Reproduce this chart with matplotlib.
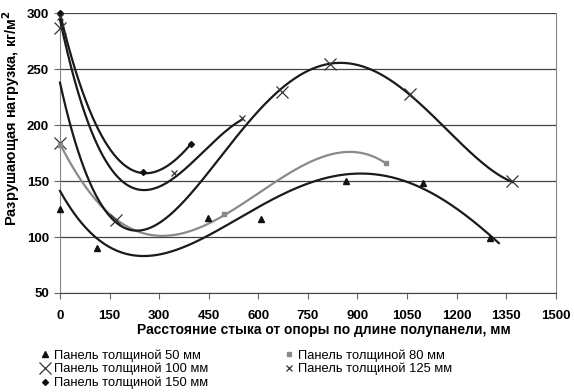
import numpy as np
import matplotlib
matplotlib.use("Agg")
import matplotlib.pyplot as plt

plt.rcParams['font.family'] = ['Liberation Sans', 'DejaVu Sans']

# measured points (markers)
x50 = [0, 111, 449, 607, 865, 1097, 1301]
y50 = [125, 90, 117, 116, 150, 148, 99]
x80 = [0, 497, 988]
y80 = [182, 120.5, 166]
x100 = [0, 0, 171, 671, 817, 1059, 1369]
y100 = [287, 184.5, 115, 230, 255, 228, 150]
x125 = [0, 346, 550]
y125 = [297, 157, 206]
x150 = [0, 250, 396]
y150 = [300, 158, 183]

# trendlines
t50x = [0, 101, 262, 393, 448, 656, 908, 968, 1170, 1328]
t50y = [142, 100, 84, 94, 100, 137, 155.6, 154.7, 133, 94]
t80x = [0, 85, 171, 293, 393, 497, 656, 867, 988]
t80y = [182, 145, 115, 99, 105, 121, 150.5, 175, 166]
t100x = [0, 32, 83, 166, 242, 393, 554, 671, 817, 867, 968, 1059, 1160, 1271, 1369]
t100y = [239, 200, 150, 116, 107, 136, 200, 230, 255, 255.5, 246, 228, 200, 166, 150]
t125x = [0, 32, 86, 150, 242, 348, 450, 550]
t125y = [298, 250, 200, 163, 145, 154, 178, 206]
t150x = [0, 45, 111, 180, 245, 320, 396]
t150y = [300, 250, 200, 168, 157, 163, 183]

labels = ['Панель толщиной 50 мм', 'Панель толщиной 100 мм', 'Панель толщиной 150 мм',
          'Панель толщиной 80 мм', 'Панель толщиной 125 мм']

fig = plt.figure(figsize=(5.74, 3.92), dpi=100)
ax = fig.add_axes([0.1045, 0.2526, 0.8636, 0.7135])

def trend(tx, ty, deg, color):
    p = np.polyfit(tx, ty, deg)
    xs = np.linspace(tx[0], tx[-1], 300)
    ax.plot(xs, np.polyval(p, xs), color=color, lw=1.6, zorder=3, clip_on=False)

trend(t50x, t50y, 4, '#1a1a1a')
trend(t80x, t80y, 4, '#8a8a8a')
trend(t100x, t100y, 5, '#1a1a1a')
trend(t125x, t125y, 3, '#1a1a1a')
trend(t150x, t150y, 3, '#1a1a1a')

h50, = ax.plot(x50, y50, ls='none', marker='^', ms=4, color='#111111', zorder=4, clip_on=False)
h100, = ax.plot(x100, y100, ls='none', marker='x', ms=8, mew=0.9, color='#333333', zorder=4, clip_on=False)
h150, = ax.plot(x150, y150, ls='none', marker='D', ms=3, color='#111111', zorder=4, clip_on=False)
h80, = ax.plot(x80, y80, ls='none', marker='s', ms=3.5, color='#8a8a8a', zorder=4, clip_on=False)
h125, = ax.plot(x125, y125, ls='none', marker='x', ms=4, mew=0.9, color='#333333', zorder=4, clip_on=False)

ax.set_xlim(0, 1500)
ax.set_ylim(50, 300)
ax.set_xticks(range(0, 1501, 150))
ax.set_yticks(range(50, 301, 50))
ax.grid(axis='y', color='#444444', lw=0.9)
ax.set_axisbelow(True)
ax.spines['top'].set_visible(False)
ax.spines['right'].set_color('#888888')
ax.spines['left'].set_color('#888888')
ax.spines['bottom'].set_color('#444444')
ax.tick_params(axis='both', direction='out', length=4, color='#666666', labelsize=9.5)
ax.tick_params(axis='x', pad=8)
ax.tick_params(axis='y', pad=4)
for lab in ax.get_xticklabels() + ax.get_yticklabels():
    lab.set_fontweight('bold')

fig.text(324 / 574, 1 - 330 / 392, 'Расстояние стыка от опоры по длине полупанели, мм',
         ha='center', va='center', fontsize=10, fontweight='bold')
fig.text(11 / 574, 1 - 118 / 392, 'Разрушающая нагрузка, кг/м$^{\\mathbf{2}}$',
         ha='center', va='center', rotation=90, fontsize=10.5, fontweight='bold')

fig.legend([h50, h100, h150, h80, h125], labels, ncol=2, loc='upper left',
           bbox_to_anchor=(40 / 574, 1 - 349 / 392), frameon=False, fontsize=9.3,
           handlelength=0.8, handletextpad=0.3, columnspacing=5.8, labelspacing=0.1,
           borderpad=0, borderaxespad=0)

fig.savefig('out.png', dpi=100)
